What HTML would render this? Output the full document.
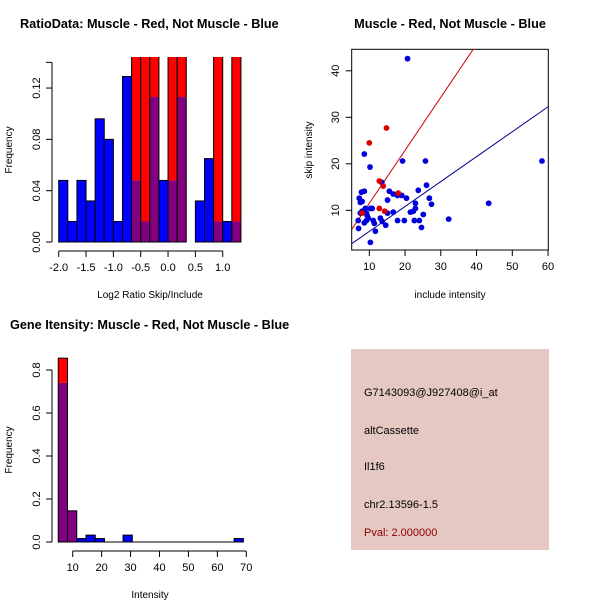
<!DOCTYPE html>
<html><head><meta charset="utf-8"><style>
body{margin:0;background:#fff}
svg{display:block;font-family:"Liberation Sans",sans-serif}
</style></head><body>
<svg id="s" width="600" height="600" viewBox="0 0 600 600">
<defs>
<clipPath id="c1"><rect x="40" y="57" width="220" height="200"/></clipPath>
<clipPath id="c2"><rect x="352" y="49" width="196" height="201"/></clipPath>
</defs>
<text x="20" y="28" font-size="12.7" font-weight="bold">RatioData: Muscle - Red, Not Muscle - Blue</text>
<text x="450" y="28" font-size="12.7" font-weight="bold" text-anchor="middle">Muscle - Red, Not Muscle - Blue</text>
<text x="10" y="329" font-size="12.7" font-weight="bold">Gene Itensity: Muscle - Red, Not Muscle - Blue</text>
<rect x="351" y="349" width="198" height="201" fill="#e6c8c3"/>
<g font-size="11">
<text x="364" y="396">G7143093@J927408@i_at</text>
<text x="364" y="434">altCassette</text>
<text x="364" y="470">Il1f6</text>
<text x="364" y="508">chr2.13596-1.5</text>
<text x="364" y="536" fill="#8b0000">Pval: 2.000000</text>
</g>
<g id="g1"></g>
<g id="g2"></g>
<g id="g3"></g>
</svg>
<script>
// Ratio histogram data
const ratioBinStart = -2.0, ratioBinWidth = 1/6;
const ratioBlue = [0.048,0.016,0.048,0.032,0.096,0.080,0.016,0.129,0.048,0.016,0.113,0.048,0.048,0.113,0,0.032,0.065,0.016,0.016,0.016];
const ratioRed  = [0,0,0,0,0,0,0,0,0.2,0.2,0.2,0,0.2,0.2,0,0,0,0.2,0,0.2];
const ratioXTicks = [-2.0,-1.5,-1.0,-0.5,0.0,0.5,1.0];
const ratioYTicks = [0.00,0.04,0.08,0.12];
// Scatter data
const blueX = [20.7,58.3,43.4,32.2,8.6,10.2,19.3,25.7,26.0,23.7,13.5,15.6,16.7,17.9,19.1,20.4,26.8,27.4,22.9,22.9,22.3,21.5,25.1,15.1,15.1,16.7,17.9,19.8,22.6,24.0,24.6,14.6,13.1,13.6,11.1,11.4,11.7,10.3,7.0,7.2,7.5,7.8,8.6,8.0,7.5,8.0,8.9,9.2,9.4,9.7,9.2,8.6,10.3,10.8,6.9];
const blueY = [42.6,20.6,11.5,8.1,22.1,19.3,20.6,20.6,15.4,14.3,16.0,14.1,13.5,13.2,13.2,12.6,12.6,11.3,11.5,10.4,9.8,9.6,9.1,12.2,9.4,9.6,7.8,7.8,7.8,7.8,6.3,6.8,8.3,7.6,7.8,7.2,5.5,3.1,6.1,12.6,11.7,13.9,14.1,11.9,9.4,9.8,10.4,9.4,8.9,8.3,7.8,7.3,10.4,10.4,7.8];
const redX = [10.0,14.8,12.8,13.9,12.8,18.1,14.3,8.0];
const redY = [24.5,27.7,16.3,15.2,10.4,13.7,9.8,9.4];
const redFit = [0.1,1.14];   // intercept, slope
const blueFit = [0.1,0.536];
const scatXTicks = [10,20,30,40,50,60];
const scatYTicks = [10,20,30,40];
// Intensity histogram data
const intBinStart = 5.0, intBinWidth = 3.2;
const intBlue = [0.74,0.145,0.016,0.032,0.016,0,0,0.032,0,0,0,0,0,0,0,0,0,0,0,0.016];
const intRed  = [0.855,0.145,0,0,0,0,0,0,0,0,0,0,0,0,0,0,0,0,0,0];
const intXTicks = [10,20,30,40,50,60,70];
const intYTicks = [0.0,0.2,0.4,0.6,0.8];

const NS='http://www.w3.org/2000/svg';
function mk(p,t,a){const e=document.createElementNS(NS,t);for(const k in a)e.setAttribute(k,a[k]);p.appendChild(e);return e;}
function txt(p,x,y,s,a){const e=mk(p,'text',Object.assign({x:x,y:y,'font-size':11},a||{}));e.textContent=s;return e;}

function hist(g,cfg){
  const {x,y,start,w,blue,red,xt,yt,fmt,clip,xLineY,yAxisX,yMin,yMax}=cfg;
  const bars=mk(g,'g',clip?{'clip-path':clip}:{});
  for(let i=0;i<blue.length;i++){
    const x0=x(start+i*w),x1=x(start+(i+1)*w);
    const b=blue[i],r=red[i],m=Math.min(b,r),top=Math.max(b,r);
    const segs=[[0,m,'#800080'],[m,top,b>r?'#0000ff':'#ff0000']];
    for(const [a,c,col] of segs){ if(c-a<=0) continue;
      const el=mk(bars,'rect',{x:x0,y:y(c),width:x1-x0,height:y(a)-y(c),fill:col,stroke:'none'});
      
      
    }
    const o=mk(bars,'rect',{x:x0,y:y(top),width:x1-x0,height:y(0)-y(top),fill:'none',stroke:'#000','stroke-width':1});
    
    
  }
  mk(g,'line',{x1:x(xt[0]),x2:x(xt[xt.length-1]),y1:xLineY,y2:xLineY,stroke:'#000'});
  xt.forEach(v=>{mk(g,'line',{x1:x(v),x2:x(v),y1:xLineY,y2:xLineY+6,stroke:'#000'});
    const t=txt(g,x(v),xLineY+20,fmt(v),{'text-anchor':'middle'});
    
    });
  mk(g,'line',{x1:yAxisX,x2:yAxisX,y1:y(yMin),y2:y(yMax),stroke:'#000'});
  yt.forEach(v=>{mk(g,'line',{x1:yAxisX,x2:yAxisX-6,y1:y(v),y2:y(v),stroke:'#000'});
    const t=txt(g,yAxisX-12,y(v),cfg.yfmt(v),{'text-anchor':'middle',transform:`rotate(-90 ${yAxisX-12} ${y(v)})`});
    
    });
}

// Plot 1
(function(){
  const g=document.getElementById('g1');
  const x=v=>58.7+(v+2)*54.67, y=v=>242-v*1283;
  hist(g,{x,y,start:ratioBinStart,w:ratioBinWidth,blue:ratioBlue,red:ratioRed,xt:ratioXTicks,yt:ratioYTicks,
    fmt:v=>v.toFixed(1),yfmt:v=>v.toFixed(2),clip:'url(#c1)',xLineY:251,yAxisX:52,yMin:0,yMax:0.14});
  mk(g,'line',{x1:52,x2:46,y1:y(0.14),y2:y(0.14),stroke:'#000'});
  const a=txt(g,150,298,'Log2 Ratio Skip/Include',{'text-anchor':'middle','font-size':10});
  const b=txt(g,12,150,'Frequency',{'text-anchor':'middle','font-size':10,transform:'rotate(-90 12 150)'});
})();

// Plot 2
(function(){
  const g=document.getElementById('g2');
  const x=v=>369.3+(v-10)*3.575, y=v=>210.3-(v-10)*4.65;
  mk(g,'rect',{x:351.7,y:49.3,width:196.6,height:200.7,fill:'none',stroke:'#000'});
  const lines=mk(g,'g',{'clip-path':'url(#c2)'});
  [[redFit,'#cc0000'],[blueFit,'#00008b']].forEach(([f,c])=>{
    const l=mk(lines,'line',{x1:x(0),y1:y(f[0]),x2:x(70),y2:y(f[0]+70*f[1]),stroke:c,'stroke-width':1});
    
    
  });
  blueX.forEach((v,i)=>{const c=mk(g,'circle',{cx:x(v),cy:y(blueY[i]),r:2.9,fill:'#0000dd'});
    
    });
  redX.forEach((v,i)=>{const c=mk(g,'circle',{cx:x(v),cy:y(redY[i]),r:2.9,fill:'#dd0000'});
    
    });
  scatXTicks.forEach(v=>{mk(g,'line',{x1:x(v),x2:x(v),y1:250,y2:256,stroke:'#000'});
    const t=txt(g,x(v),270,String(v),{'text-anchor':'middle'});});
  scatYTicks.forEach(v=>{mk(g,'line',{x1:351.7,x2:345.7,y1:y(v),y2:y(v),stroke:'#000'});
    const t=txt(g,339,y(v),String(v),{'text-anchor':'middle',transform:`rotate(-90 339 ${y(v)})`});});
  const a=txt(g,450,298,'include intensity',{'text-anchor':'middle','font-size':10});
  const b=txt(g,312,150,'skip intensity',{'text-anchor':'middle','font-size':10,transform:'rotate(-90 312 150)'});
})();

// Plot 3
(function(){
  const g=document.getElementById('g3');
  const x=v=>72.7+(v-10)*2.893, y=v=>542-v*215;
  hist(g,{x,y,start:intBinStart,w:intBinWidth,blue:intBlue,red:intRed,xt:intXTicks,yt:intYTicks,
    fmt:v=>String(v),yfmt:v=>v.toFixed(1),clip:null,xLineY:551,yAxisX:52,yMin:0,yMax:0.8});
  mk(g,'line',{x1:x(intBinStart),x2:x(intBinStart+20*intBinWidth),y1:542,y2:542,stroke:'#000'});
  const a=txt(g,150,598,'Intensity',{'text-anchor':'middle','font-size':10});
  const b=txt(g,12,450,'Frequency',{'text-anchor':'middle','font-size':10,transform:'rotate(-90 12 450)'});
})();
</script>
</body></html>
